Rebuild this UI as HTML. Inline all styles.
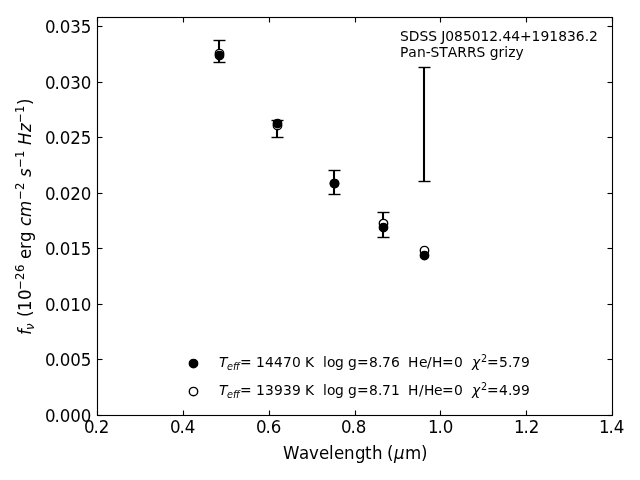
<!DOCTYPE html>
<html><head><meta charset="utf-8"><title>SED plot</title><style>html,body{margin:0;padding:0;background:#fff;overflow:hidden}svg{display:block;will-change:transform}text{white-space:pre}</style></head><body>
<svg width="640" height="480" viewBox="0 0 640 480"><rect width="640" height="480" fill="#fff"/>
<line x1="219" y1="40.5" x2="219" y2="62.5" stroke="#000" stroke-width="2.083"/>
<line x1="213.5" y1="40.5" x2="225.5" y2="40.5" stroke="#000" stroke-width="1.389"/>
<line x1="213.5" y1="62.5" x2="225.5" y2="62.5" stroke="#000" stroke-width="1.389"/>
<line x1="277" y1="120.5" x2="277" y2="137.5" stroke="#000" stroke-width="2.083"/>
<line x1="271.5" y1="120.5" x2="283.5" y2="120.5" stroke="#000" stroke-width="1.389"/>
<line x1="271.5" y1="137.5" x2="283.5" y2="137.5" stroke="#000" stroke-width="1.389"/>
<line x1="334" y1="170.5" x2="334" y2="194.5" stroke="#000" stroke-width="2.083"/>
<line x1="328.5" y1="170.5" x2="340.5" y2="170.5" stroke="#000" stroke-width="1.389"/>
<line x1="328.5" y1="194.5" x2="340.5" y2="194.5" stroke="#000" stroke-width="1.389"/>
<line x1="383" y1="212.5" x2="383" y2="237.5" stroke="#000" stroke-width="2.083"/>
<line x1="377.5" y1="212.5" x2="389.5" y2="212.5" stroke="#000" stroke-width="1.389"/>
<line x1="377.5" y1="237.5" x2="389.5" y2="237.5" stroke="#000" stroke-width="1.389"/>
<line x1="424" y1="67.5" x2="424" y2="181.5" stroke="#000" stroke-width="2.083"/>
<line x1="418.5" y1="67.5" x2="430.5" y2="67.5" stroke="#000" stroke-width="1.389"/>
<line x1="418.5" y1="181.5" x2="430.5" y2="181.5" stroke="#000" stroke-width="1.389"/>
<circle cx="219.5" cy="53.55" r="4.2" fill="#fff" stroke="#000" stroke-width="1.389"/>
<circle cx="277.5" cy="125.55" r="4.2" fill="#fff" stroke="#000" stroke-width="1.389"/>
<circle cx="334.5" cy="183.55" r="4.2" fill="#fff" stroke="#000" stroke-width="1.389"/>
<circle cx="383.5" cy="223.55" r="4.2" fill="#fff" stroke="#000" stroke-width="1.389"/>
<circle cx="424.5" cy="250.55" r="4.2" fill="#fff" stroke="#000" stroke-width="1.389"/>
<circle cx="219.5" cy="55.55" r="4.2" fill="#000" stroke="#000" stroke-width="1.389"/>
<circle cx="277.5" cy="123.55" r="4.2" fill="#000" stroke="#000" stroke-width="1.389"/>
<circle cx="334.5" cy="183.55" r="4.2" fill="#000" stroke="#000" stroke-width="1.389"/>
<circle cx="383.5" cy="227.55" r="4.2" fill="#000" stroke="#000" stroke-width="1.389"/>
<circle cx="424.5" cy="255.55" r="4.2" fill="#000" stroke="#000" stroke-width="1.389"/>
<rect x="97.5" y="17.5" width="515.0" height="398.0" fill="none" stroke="#000" stroke-width="1.111"/>
<line x1="97.5" y1="415.5" x2="97.5" y2="410.5" stroke="#000" stroke-width="1.111"/>
<line x1="97.5" y1="17.5" x2="97.5" y2="22.5" stroke="#000" stroke-width="1.111"/>
<line x1="183.5" y1="415.5" x2="183.5" y2="410.5" stroke="#000" stroke-width="1.111"/>
<line x1="183.5" y1="17.5" x2="183.5" y2="22.5" stroke="#000" stroke-width="1.111"/>
<line x1="269.5" y1="415.5" x2="269.5" y2="410.5" stroke="#000" stroke-width="1.111"/>
<line x1="269.5" y1="17.5" x2="269.5" y2="22.5" stroke="#000" stroke-width="1.111"/>
<line x1="355.5" y1="415.5" x2="355.5" y2="410.5" stroke="#000" stroke-width="1.111"/>
<line x1="355.5" y1="17.5" x2="355.5" y2="22.5" stroke="#000" stroke-width="1.111"/>
<line x1="440.5" y1="415.5" x2="440.5" y2="410.5" stroke="#000" stroke-width="1.111"/>
<line x1="440.5" y1="17.5" x2="440.5" y2="22.5" stroke="#000" stroke-width="1.111"/>
<line x1="526.5" y1="415.5" x2="526.5" y2="410.5" stroke="#000" stroke-width="1.111"/>
<line x1="526.5" y1="17.5" x2="526.5" y2="22.5" stroke="#000" stroke-width="1.111"/>
<line x1="612.5" y1="415.5" x2="612.5" y2="410.5" stroke="#000" stroke-width="1.111"/>
<line x1="612.5" y1="17.5" x2="612.5" y2="22.5" stroke="#000" stroke-width="1.111"/>
<line x1="97.5" y1="415.5" x2="102.5" y2="415.5" stroke="#000" stroke-width="1.111"/>
<line x1="612.5" y1="415.5" x2="607.5" y2="415.5" stroke="#000" stroke-width="1.111"/>
<line x1="97.5" y1="359.5" x2="102.5" y2="359.5" stroke="#000" stroke-width="1.111"/>
<line x1="612.5" y1="359.5" x2="607.5" y2="359.5" stroke="#000" stroke-width="1.111"/>
<line x1="97.5" y1="304.5" x2="102.5" y2="304.5" stroke="#000" stroke-width="1.111"/>
<line x1="612.5" y1="304.5" x2="607.5" y2="304.5" stroke="#000" stroke-width="1.111"/>
<line x1="97.5" y1="248.5" x2="102.5" y2="248.5" stroke="#000" stroke-width="1.111"/>
<line x1="612.5" y1="248.5" x2="607.5" y2="248.5" stroke="#000" stroke-width="1.111"/>
<line x1="97.5" y1="193.5" x2="102.5" y2="193.5" stroke="#000" stroke-width="1.111"/>
<line x1="612.5" y1="193.5" x2="607.5" y2="193.5" stroke="#000" stroke-width="1.111"/>
<line x1="97.5" y1="137.5" x2="102.5" y2="137.5" stroke="#000" stroke-width="1.111"/>
<line x1="612.5" y1="137.5" x2="607.5" y2="137.5" stroke="#000" stroke-width="1.111"/>
<line x1="97.5" y1="82.5" x2="102.5" y2="82.5" stroke="#000" stroke-width="1.111"/>
<line x1="612.5" y1="82.5" x2="607.5" y2="82.5" stroke="#000" stroke-width="1.111"/>
<line x1="97.5" y1="26.5" x2="102.5" y2="26.5" stroke="#000" stroke-width="1.111"/>
<line x1="612.5" y1="26.5" x2="607.5" y2="26.5" stroke="#000" stroke-width="1.111"/>
<g transform="translate(84 433) scale(1.0 1.04)"><text font-family="'DejaVu Sans', sans-serif"><tspan x="0" y="0" style="font-size:16.667px">0</tspan><tspan x="9.5" y="0" style="font-size:16.667px">.</tspan><tspan x="14.75" y="0" style="font-size:16.667px">2</tspan></text></g>
<g transform="translate(170 433) scale(1.0 1.04)"><text font-family="'DejaVu Sans', sans-serif"><tspan x="0" y="0" style="font-size:16.667px">0</tspan><tspan x="9.5" y="0" style="font-size:16.667px">.</tspan><tspan x="14.75" y="0" style="font-size:16.667px">4</tspan></text></g>
<g transform="translate(256 433) scale(1.0 1.04)"><text font-family="'DejaVu Sans', sans-serif"><tspan x="0" y="0" style="font-size:16.667px">0</tspan><tspan x="9.5" y="0" style="font-size:16.667px">.</tspan><tspan x="14.75" y="0" style="font-size:16.667px">6</tspan></text></g>
<g transform="translate(341 433) scale(1.0 1.04)"><text font-family="'DejaVu Sans', sans-serif"><tspan x="0" y="0" style="font-size:16.667px">0</tspan><tspan x="9.5" y="0" style="font-size:16.667px">.</tspan><tspan x="14.75" y="0" style="font-size:16.667px">8</tspan></text></g>
<g transform="translate(428 433) scale(1.0 1.04)"><text font-family="'DejaVu Sans', sans-serif"><tspan x="0" y="0" style="font-size:16.667px">1</tspan><tspan x="9.625" y="0" style="font-size:16.667px">.</tspan><tspan x="14.875" y="0" style="font-size:16.667px">0</tspan></text></g>
<g transform="translate(514 433) scale(1.0 1.04)"><text font-family="'DejaVu Sans', sans-serif"><tspan x="0" y="0" style="font-size:16.667px">1</tspan><tspan x="9.625" y="0" style="font-size:16.667px">.</tspan><tspan x="14.875" y="0" style="font-size:16.667px">2</tspan></text></g>
<g transform="translate(599 433) scale(1.0 1.04)"><text font-family="'DejaVu Sans', sans-serif"><tspan x="0" y="0" style="font-size:16.667px">1</tspan><tspan x="9.625" y="0" style="font-size:16.667px">.</tspan><tspan x="14.875" y="0" style="font-size:16.667px">4</tspan></text></g>
<g transform="translate(283 459) scale(1.0 1.04)"><text font-family="'DejaVu Sans', sans-serif"><tspan x="0" y="0" style="font-size:16.667px">W</tspan><tspan x="16" y="0" style="font-size:16.667px">a</tspan><tspan x="26" y="0" style="font-size:16.667px">v</tspan><tspan x="36" y="0" style="font-size:16.667px">e</tspan><tspan x="46" y="0" style="font-size:16.667px">l</tspan><tspan x="51" y="0" style="font-size:16.667px">e</tspan><tspan x="61" y="0" style="font-size:16.667px">n</tspan><tspan x="72" y="0" style="font-size:16.667px">g</tspan><tspan x="82" y="0" style="font-size:16.667px">t</tspan><tspan x="89" y="0" style="font-size:16.667px">h</tspan><tspan x="99" y="0" style="font-size:16.667px"> </tspan><tspan x="104" y="0" style="font-size:16.667px">(</tspan><tspan x="111" y="0" style="font-style:oblique;font-size:16.667px">μ</tspan><tspan x="122" y="0" style="font-size:16.667px">m</tspan><tspan x="138" y="0" style="font-size:16.667px">)</tspan></text></g>
<g transform="translate(45 422) scale(1.0 1.04)"><text font-family="'DejaVu Sans', sans-serif"><tspan x="0" y="0" style="font-size:16.667px">0</tspan><tspan x="9.5" y="0" style="font-size:16.667px">.</tspan><tspan x="14.75" y="0" style="font-size:16.667px">0</tspan><tspan x="25.25" y="0" style="font-size:16.667px">0</tspan><tspan x="35.75" y="0" style="font-size:16.667px">0</tspan></text></g>
<g transform="translate(45 366) scale(1.0 1.04)"><text font-family="'DejaVu Sans', sans-serif"><tspan x="0" y="0" style="font-size:16.667px">0</tspan><tspan x="9.5" y="0" style="font-size:16.667px">.</tspan><tspan x="14.75" y="0" style="font-size:16.667px">0</tspan><tspan x="25.25" y="0" style="font-size:16.667px">0</tspan><tspan x="35.75" y="0" style="font-size:16.667px">5</tspan></text></g>
<g transform="translate(45 311) scale(1.0 1.04)"><text font-family="'DejaVu Sans', sans-serif"><tspan x="0" y="0" style="font-size:16.667px">0</tspan><tspan x="9.5" y="0" style="font-size:16.667px">.</tspan><tspan x="14.75" y="0" style="font-size:16.667px">0</tspan><tspan x="25.25" y="0" style="font-size:16.667px">1</tspan><tspan x="35.875" y="0" style="font-size:16.667px">0</tspan></text></g>
<g transform="translate(45 255) scale(1.0 1.04)"><text font-family="'DejaVu Sans', sans-serif"><tspan x="0" y="0" style="font-size:16.667px">0</tspan><tspan x="9.5" y="0" style="font-size:16.667px">.</tspan><tspan x="14.75" y="0" style="font-size:16.667px">0</tspan><tspan x="25.25" y="0" style="font-size:16.667px">1</tspan><tspan x="35.875" y="0" style="font-size:16.667px">5</tspan></text></g>
<g transform="translate(45 200) scale(1.0 1.04)"><text font-family="'DejaVu Sans', sans-serif"><tspan x="0" y="0" style="font-size:16.667px">0</tspan><tspan x="9.5" y="0" style="font-size:16.667px">.</tspan><tspan x="14.75" y="0" style="font-size:16.667px">0</tspan><tspan x="25.25" y="0" style="font-size:16.667px">2</tspan><tspan x="35.875" y="0" style="font-size:16.667px">0</tspan></text></g>
<g transform="translate(45 144) scale(1.0 1.04)"><text font-family="'DejaVu Sans', sans-serif"><tspan x="0" y="0" style="font-size:16.667px">0</tspan><tspan x="9.5" y="0" style="font-size:16.667px">.</tspan><tspan x="14.75" y="0" style="font-size:16.667px">0</tspan><tspan x="25.25" y="0" style="font-size:16.667px">2</tspan><tspan x="35.875" y="0" style="font-size:16.667px">5</tspan></text></g>
<g transform="translate(45 89) scale(1.0 1.04)"><text font-family="'DejaVu Sans', sans-serif"><tspan x="0" y="0" style="font-size:16.667px">0</tspan><tspan x="9.5" y="0" style="font-size:16.667px">.</tspan><tspan x="14.75" y="0" style="font-size:16.667px">0</tspan><tspan x="25.25" y="0" style="font-size:16.667px">3</tspan><tspan x="35.875" y="0" style="font-size:16.667px">0</tspan></text></g>
<g transform="translate(45 33) scale(1.0 1.04)"><text font-family="'DejaVu Sans', sans-serif"><tspan x="0" y="0" style="font-size:16.667px">0</tspan><tspan x="9.5" y="0" style="font-size:16.667px">.</tspan><tspan x="14.75" y="0" style="font-size:16.667px">0</tspan><tspan x="25.25" y="0" style="font-size:16.667px">3</tspan><tspan x="35.875" y="0" style="font-size:16.667px">5</tspan></text></g>
<g transform="translate(31 336) rotate(-90) scale(1.0 1.04)"><text font-family="'DejaVu Sans', sans-serif"><tspan x="1" y="0" style="font-style:oblique;font-size:16.667px">f</tspan><tspan x="6" y="2.885" style="font-style:oblique;font-size:11.667px">ν</tspan><tspan x="13" y="0" style="font-size:16.667px"> </tspan><tspan x="19" y="0" style="font-size:16.667px">(</tspan><tspan x="25" y="0" style="font-size:16.667px">1</tspan><tspan x="36" y="0" style="font-size:16.667px">0</tspan><tspan x="46" y="-6.731" style="font-size:11.667px">−</tspan><tspan x="56" y="-6.731" style="font-size:11.667px">2</tspan><tspan x="64" y="-6.731" style="font-size:11.667px">6</tspan><tspan x="72" y="0" style="font-size:16.667px"> </tspan><tspan x="77" y="0" style="font-size:16.667px">e</tspan><tspan x="87" y="0" style="font-size:16.667px">r</tspan><tspan x="94" y="0" style="font-size:16.667px">g</tspan><tspan x="104" y="0" style="font-size:16.667px"> </tspan><tspan x="110" y="0" style="font-style:oblique;font-size:16.667px">c</tspan><tspan x="119" y="0" style="font-style:oblique;font-size:16.667px">m</tspan><tspan x="136" y="-6.731" style="font-size:11.667px">−</tspan><tspan x="146" y="-6.731" style="font-size:11.667px">2</tspan><tspan x="154" y="0" style="font-size:16.667px"> </tspan><tspan x="159" y="0" style="font-style:oblique;font-size:16.667px">s</tspan><tspan x="168" y="-6.731" style="font-size:11.667px">−</tspan><tspan x="178" y="-6.731" style="font-size:11.667px">1</tspan><tspan x="186" y="0" style="font-size:16.667px"> </tspan><tspan x="191" y="0" style="font-style:oblique;font-size:16.667px">H</tspan><tspan x="204" y="0" style="font-style:oblique;font-size:16.667px">z</tspan><tspan x="213" y="-6.731" style="font-size:11.667px">−</tspan><tspan x="223" y="-6.731" style="font-size:11.667px">1</tspan><tspan x="231" y="0" style="font-size:16.667px">)</tspan></text></g>
<g transform="translate(400 41) scale(1.0 1.04)"><text font-family="'DejaVu Sans', sans-serif"><tspan x="0" y="0" style="font-size:13.889px">S</tspan><tspan x="8.75" y="0" style="font-size:13.889px">D</tspan><tspan x="19.5" y="0" style="font-size:13.889px">S</tspan><tspan x="28.25" y="0" style="font-size:13.889px">S</tspan><tspan x="37" y="0" style="font-size:13.889px"> </tspan><tspan x="41.375" y="0" style="font-size:13.889px">J</tspan><tspan x="45.375" y="0" style="font-size:13.889px">0</tspan><tspan x="54.125" y="0" style="font-size:13.889px">8</tspan><tspan x="63" y="0" style="font-size:13.889px">5</tspan><tspan x="71.75" y="0" style="font-size:13.889px">0</tspan><tspan x="80.5" y="0" style="font-size:13.889px">1</tspan><tspan x="89.375" y="0" style="font-size:13.889px">2</tspan><tspan x="98.125" y="0" style="font-size:13.889px">.</tspan><tspan x="102.5" y="0" style="font-size:13.889px">4</tspan><tspan x="111.25" y="0" style="font-size:13.889px">4</tspan><tspan x="120" y="0" style="font-size:13.889px">+</tspan><tspan x="131.625" y="0" style="font-size:13.889px">1</tspan><tspan x="140.5" y="0" style="font-size:13.889px">9</tspan><tspan x="149.375" y="0" style="font-size:13.889px">1</tspan><tspan x="158.25" y="0" style="font-size:13.889px">8</tspan><tspan x="167.125" y="0" style="font-size:13.889px">3</tspan><tspan x="175.875" y="0" style="font-size:13.889px">6</tspan><tspan x="184.75" y="0" style="font-size:13.889px">.</tspan><tspan x="189.125" y="0" style="font-size:13.889px">2</tspan></text></g>
<g transform="translate(400 57) scale(1.0 1.04)"><text font-family="'DejaVu Sans', sans-serif"><tspan x="0" y="0" style="font-size:13.889px">P</tspan><tspan x="8.375" y="0" style="font-size:13.889px">a</tspan><tspan x="17" y="0" style="font-size:13.889px">n</tspan><tspan x="25.75" y="0" style="font-size:13.889px">-</tspan><tspan x="30.625" y="0" style="font-size:13.889px">S</tspan><tspan x="39.375" y="0" style="font-size:13.889px">T</tspan><tspan x="47.859" y="0" style="font-size:13.889px">A</tspan><tspan x="57.359" y="0" style="font-size:13.889px">R</tspan><tspan x="66.984" y="0" style="font-size:13.889px">R</tspan><tspan x="76.609" y="0" style="font-size:13.889px">S</tspan><tspan x="85.359" y="0" style="font-size:13.889px"> </tspan><tspan x="89.734" y="0" style="font-size:13.889px">g</tspan><tspan x="98.609" y="0" style="font-size:13.889px">r</tspan><tspan x="104.359" y="0" style="font-size:13.889px">i</tspan><tspan x="108.234" y="0" style="font-size:13.889px">z</tspan><tspan x="115.609" y="0" style="font-size:13.889px">y</tspan></text></g>
<g transform="translate(219 367) scale(1.0 1.04)"><text font-family="'DejaVu Sans', sans-serif"><tspan x="0" y="0" style="font-style:oblique;font-size:13.889px">T</tspan><tspan x="8" y="2.885" style="font-style:oblique;font-size:9.722px">e</tspan><tspan x="14" y="2.885" style="font-style:oblique;font-size:9.722px">f</tspan><tspan x="17" y="2.885" style="font-style:oblique;font-size:9.722px">f</tspan><tspan x="21" y="0" style="font-size:13.889px">=</tspan><tspan x="33" y="0" style="font-size:13.889px"> </tspan><tspan x="37" y="0" style="font-size:13.889px">1</tspan><tspan x="46" y="0" style="font-size:13.889px">4</tspan><tspan x="55" y="0" style="font-size:13.889px">4</tspan><tspan x="64" y="0" style="font-size:13.889px">7</tspan><tspan x="73" y="0" style="font-size:13.889px">0</tspan><tspan x="81" y="0" style="font-size:13.889px"> </tspan><tspan x="86" y="0" style="font-size:13.889px">K</tspan><tspan x="95" y="0" style="font-size:13.889px"> </tspan><tspan x="99" y="0" style="font-size:13.889px"> </tspan><tspan x="104" y="0" style="font-size:13.889px">l</tspan><tspan x="108" y="0" style="font-size:13.889px">o</tspan><tspan x="116" y="0" style="font-size:13.889px">g</tspan><tspan x="125" y="0" style="font-size:13.889px"> </tspan><tspan x="129" y="0" style="font-size:13.889px">g</tspan><tspan x="138" y="0" style="font-size:13.889px">=</tspan><tspan x="150" y="0" style="font-size:13.889px">8</tspan><tspan x="159" y="0" style="font-size:13.889px">.</tspan><tspan x="163" y="0" style="font-size:13.889px">7</tspan><tspan x="172" y="0" style="font-size:13.889px">6</tspan><tspan x="181" y="0" style="font-size:13.889px"> </tspan><tspan x="185" y="0" style="font-size:13.889px"> </tspan><tspan x="189" y="0" style="font-size:13.889px">H</tspan><tspan x="200" y="0" style="font-size:13.889px">e</tspan><tspan x="208" y="0" style="font-size:13.889px">/</tspan><tspan x="213" y="0" style="font-size:13.889px">H</tspan><tspan x="223" y="0" style="font-size:13.889px">=</tspan><tspan x="235" y="0" style="font-size:13.889px">0</tspan><tspan x="244" y="0" style="font-size:13.889px"> </tspan><tspan x="248" y="0" style="font-size:13.889px"> </tspan><tspan x="253" y="0" style="font-style:oblique;font-size:13.889px">χ</tspan><tspan x="262" y="-4.808" style="font-size:9.722px">2</tspan><tspan x="268" y="0" style="font-size:13.889px">=</tspan><tspan x="280" y="0" style="font-size:13.889px">5</tspan><tspan x="289" y="0" style="font-size:13.889px">.</tspan><tspan x="293" y="0" style="font-size:13.889px">7</tspan><tspan x="302" y="0" style="font-size:13.889px">9</tspan></text></g>
<g transform="translate(219 395) scale(1.0 1.04)"><text font-family="'DejaVu Sans', sans-serif"><tspan x="0" y="0" style="font-style:oblique;font-size:13.889px">T</tspan><tspan x="8" y="2.885" style="font-style:oblique;font-size:9.722px">e</tspan><tspan x="14" y="2.885" style="font-style:oblique;font-size:9.722px">f</tspan><tspan x="17" y="2.885" style="font-style:oblique;font-size:9.722px">f</tspan><tspan x="21" y="0" style="font-size:13.889px">=</tspan><tspan x="33" y="0" style="font-size:13.889px"> </tspan><tspan x="37" y="0" style="font-size:13.889px">1</tspan><tspan x="46" y="0" style="font-size:13.889px">3</tspan><tspan x="55" y="0" style="font-size:13.889px">9</tspan><tspan x="64" y="0" style="font-size:13.889px">3</tspan><tspan x="73" y="0" style="font-size:13.889px">9</tspan><tspan x="81" y="0" style="font-size:13.889px"> </tspan><tspan x="86" y="0" style="font-size:13.889px">K</tspan><tspan x="95" y="0" style="font-size:13.889px"> </tspan><tspan x="99" y="0" style="font-size:13.889px"> </tspan><tspan x="104" y="0" style="font-size:13.889px">l</tspan><tspan x="108" y="0" style="font-size:13.889px">o</tspan><tspan x="116" y="0" style="font-size:13.889px">g</tspan><tspan x="125" y="0" style="font-size:13.889px"> </tspan><tspan x="129" y="0" style="font-size:13.889px">g</tspan><tspan x="138" y="0" style="font-size:13.889px">=</tspan><tspan x="150" y="0" style="font-size:13.889px">8</tspan><tspan x="159" y="0" style="font-size:13.889px">.</tspan><tspan x="163" y="0" style="font-size:13.889px">7</tspan><tspan x="172" y="0" style="font-size:13.889px">1</tspan><tspan x="181" y="0" style="font-size:13.889px"> </tspan><tspan x="185" y="0" style="font-size:13.889px"> </tspan><tspan x="189" y="0" style="font-size:13.889px">H</tspan><tspan x="200" y="0" style="font-size:13.889px">/</tspan><tspan x="205" y="0" style="font-size:13.889px">H</tspan><tspan x="215" y="0" style="font-size:13.889px">e</tspan><tspan x="223" y="0" style="font-size:13.889px">=</tspan><tspan x="235" y="0" style="font-size:13.889px">0</tspan><tspan x="244" y="0" style="font-size:13.889px"> </tspan><tspan x="248" y="0" style="font-size:13.889px"> </tspan><tspan x="253" y="0" style="font-style:oblique;font-size:13.889px">χ</tspan><tspan x="262" y="-4.808" style="font-size:9.722px">2</tspan><tspan x="268" y="0" style="font-size:13.889px">=</tspan><tspan x="280" y="0" style="font-size:13.889px">4</tspan><tspan x="289" y="0" style="font-size:13.889px">.</tspan><tspan x="293" y="0" style="font-size:13.889px">9</tspan><tspan x="302" y="0" style="font-size:13.889px">9</tspan></text></g>
<circle cx="193.5" cy="363.55" r="4.2" fill="#000" stroke="#000" stroke-width="1.389"/>
<circle cx="193.5" cy="391.55" r="4.2" fill="#fff" stroke="#000" stroke-width="1.389"/>
</svg>
</body></html>
